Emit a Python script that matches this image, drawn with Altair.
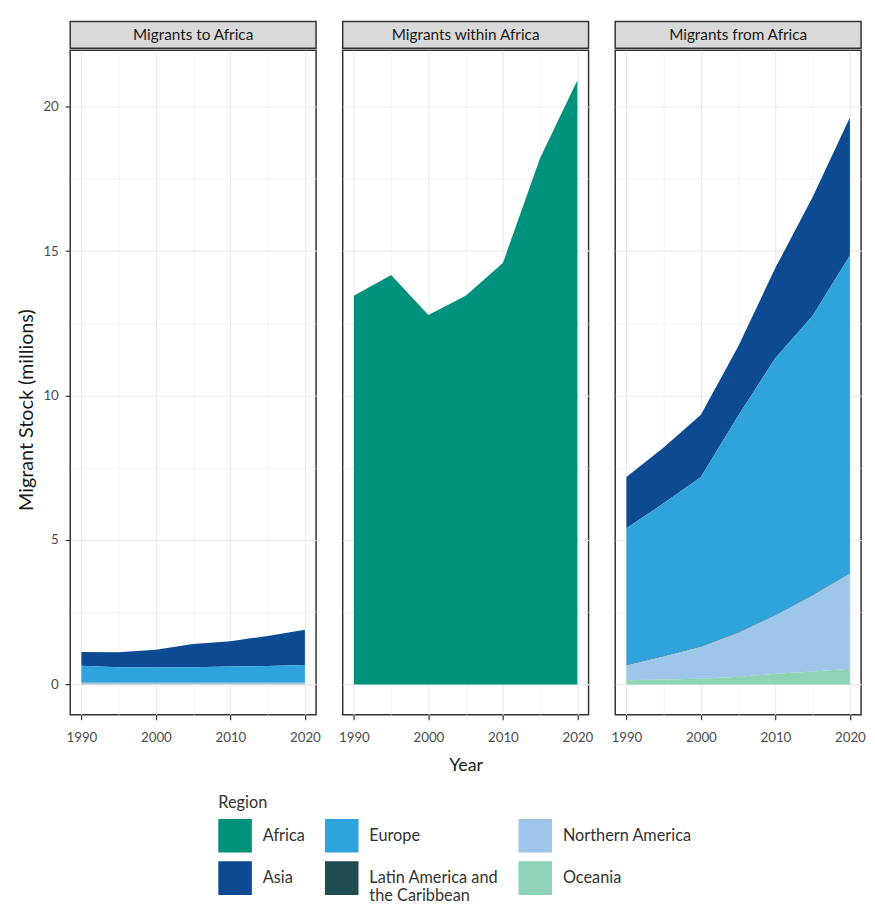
import altair as alt
import pandas as pd

years = [1990, 1995, 2000, 2005, 2010, 2015, 2020]
panels = ["Migrants to Africa", "Migrants within Africa", "Migrants from Africa"]
regions = ["Africa", "Asia", "Europe", "Latin America and the Caribbean",
           "Northern America", "Oceania"]
region_colors = ["#00917C", "#0E4A92", "#2FA3DC", "#1F4C50", "#9DC6EA", "#8ED3B6"]
legend_order = ["Africa", "Europe", "Northern America",
                "Asia", "Latin America and the Caribbean", "Oceania"]

# Migrants to Africa (by region of origin), millions
to_asia = [0.48, 0.52, 0.61, 0.80, 0.88, 1.04, 1.22]
to_europe = [0.58, 0.53, 0.52, 0.53, 0.55, 0.57, 0.61]
to_latam = [0.01, 0.01, 0.01, 0.01, 0.01, 0.01, 0.01]
to_namerica = [0.05, 0.05, 0.05, 0.05, 0.05, 0.05, 0.05]
to_oceania = [0.01, 0.01, 0.01, 0.01, 0.01, 0.01, 0.01]

# Migrants within Africa
within_africa = [13.45, 14.17, 12.79, 13.45, 14.59, 18.22, 20.91]

# Migrants from Africa (by region of destination)
from_asia = [1.77, 1.93, 2.16, 2.40, 3.12, 4.11, 4.77]
from_europe = [4.73, 5.28, 5.86, 7.50, 8.89, 9.66, 11.00]
from_latam = [0.02, 0.02, 0.02, 0.02, 0.02, 0.02, 0.02]
from_namerica = [0.51, 0.80, 1.10, 1.51, 2.02, 2.63, 3.28]
from_oceania = [0.15, 0.17, 0.20, 0.27, 0.37, 0.45, 0.55]

series = {
    "Migrants to Africa": {
        "Asia": to_asia, "Europe": to_europe,
        "Latin America and the Caribbean": to_latam,
        "Northern America": to_namerica, "Oceania": to_oceania,
    },
    "Migrants within Africa": {"Africa": within_africa},
    "Migrants from Africa": {
        "Asia": from_asia, "Europe": from_europe,
        "Latin America and the Caribbean": from_latam,
        "Northern America": from_namerica, "Oceania": from_oceania,
    },
}

rows = []
for p, regs in series.items():
    for r, vals in regs.items():
        for y, v in zip(years, vals):
            rows.append({"panel": p, "region": r, "year": y, "value": v,
                         "rank": regions.index(r)})
df = pd.DataFrame(rows)

y_grid = [0, 2.5, 5, 7.5, 10, 12.5, 15, 17.5, 20]
x_grid = years

FONT = "Lato"
PANEL_W = 249
PANEL_H = 673
STRIP_H = 27

color_scale = alt.Scale(
    domain=legend_order,
    range=[region_colors[regions.index(r)] for r in legend_order],
)

legend = alt.Legend(
    title="Region", orient="none", legendX=150, legendY=783,
    direction="horizontal", columns=3,
    symbolType="square", symbolSize=1156, symbolStrokeWidth=0,
    symbolOpacity=1,
    titleFontSize=16.5, titleFontWeight="normal", titleColor="#333333",
    titleFont=FONT, titlePadding=8,
    labelFontSize=16.5, labelColor="#333333", labelFont=FONT,
    labelOffset=11, labelLimit=300, rowPadding=9, columnPadding=20,
    labelExpr="datum.label == 'Latin America and the Caribbean' ? "
              "['Latin America and', 'the Caribbean'] : datum.label",
)


def panel(i, name):
    sub = df[df["panel"] == name]
    first = i == 0
    mid = i == 1
    y_axis = alt.Axis(
        values=y_grid, grid=True,
        gridColor="#EBEBEB",
        gridWidth={"condition": {"test": "datum.value % 5 == 0", "value": 1.1}, "value": 0.6},
        domain=False,
        labels=first, ticks=first,
        tickOpacity={"condition": {"test": "datum.value % 5 == 0", "value": 1}, "value": 0},
        labelExpr="datum.value % 5 == 0 ? datum.label : ''",
        tickSize=5, tickColor="#333333", tickWidth=1.2,
        labelFontSize=13.5, labelColor="#4D4D4D", labelFont=FONT, labelPadding=7,
        title="Migrant Stock (millions)" if first else None,
        titleFontSize=20, titleFontWeight="normal", titleColor="#1A1A1A",
        titleFont=FONT, titlePadding=7, titleY=364,
    )
    x_axis = alt.Axis(
        values=x_grid, grid=True,
        gridColor="#EBEBEB",
        gridWidth={"condition": {"test": "datum.value % 10 == 0", "value": 1.1}, "value": 0.6},
        domain=False, format="d",
        tickOpacity={"condition": {"test": "datum.value % 10 == 0", "value": 1}, "value": 0},
        labelExpr="datum.value % 10 == 0 ? datum.label : ''",
        tickSize=5, tickColor="#333333", tickWidth=1.2,
        labelFontSize=13.5, labelColor="#4D4D4D", labelFont=FONT, labelPadding=11,
        labelFlush=False,
        title="Year" if mid else None,
        titleFontSize=18, titleFontWeight="normal", titleColor="#1A1A1A",
        titleFont=FONT, titlePadding=13,
    )
    area = alt.Chart(sub).mark_area(opacity=1).encode(
        x=alt.X("year:Q", scale=alt.Scale(domain=[1988.5, 2021.5], nice=False, zero=False),
                axis=x_axis),
        y=alt.Y("sum(value):Q", stack="zero",
                scale=alt.Scale(domain=[-1.045, 21.95], nice=False, zero=False),
                axis=y_axis),
        color=alt.Color("region:N", scale=color_scale, legend=legend),
        order=alt.Order("rank:Q", sort="descending"),
    ).properties(
        width=PANEL_W, height=PANEL_H,
        view=alt.ViewBackground(stroke="#333333", strokeWidth=1.5, fill="white"),
    )
    strip = alt.Chart(pd.DataFrame({"label": [name]})).mark_text(
        fontSize=15.5, color="#1A1A1A", font=FONT
    ).encode(
        text="label:N"
    ).properties(
        width=PANEL_W, height=STRIP_H,
        view=alt.ViewBackground(stroke="#333333", strokeWidth=1.5, fill="#D9D9D9"),
    )
    return alt.vconcat(strip, area, spacing=0)


chart = alt.hconcat(*[panel(i, p) for i, p in enumerate(panels)],
                    spacing=15).properties(
    padding={"left": 7, "top": 7, "right": 0, "bottom": 0}
).configure(font=FONT).configure_view(stroke="#333333")

chart.save("out.html", embed_options={"renderer": "svg", "actions": False})
